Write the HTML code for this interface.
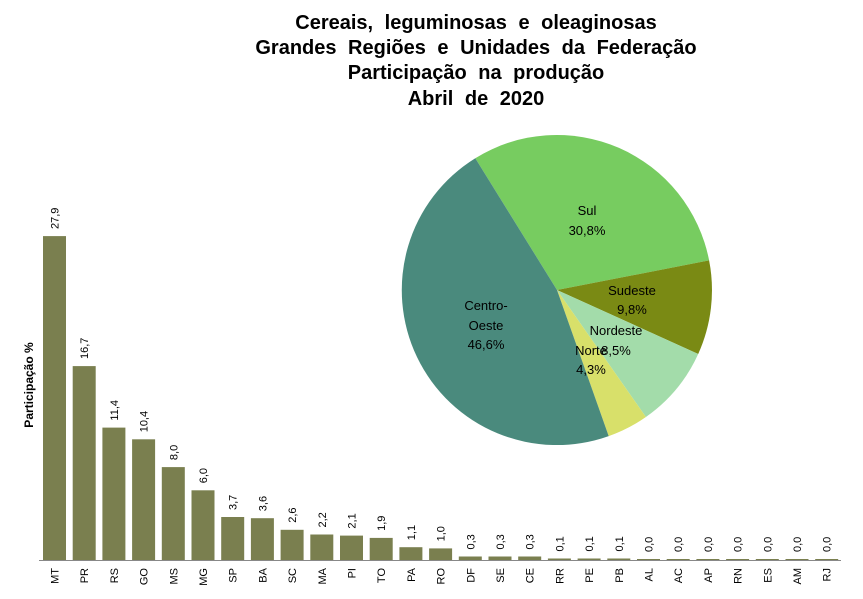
<!DOCTYPE html>
<html><head><meta charset="utf-8"><style>
html,body{margin:0;padding:0;background:#fff;}
svg{display:block;font-family:"Liberation Sans",sans-serif;}
</style></head><body>
<svg width="863" height="599" viewBox="0 0 863 599" xmlns="http://www.w3.org/2000/svg">
<g font-weight="bold" font-size="20" text-anchor="middle" fill="#000" word-spacing="6">
<text x="476" y="29">Cereais, leguminosas  e oleaginosas</text>
<text x="476" y="54">Grandes Regiões e Unidades  da Federação</text>
<text x="476" y="79">Participação  na produção</text>
<text x="476" y="105">Abril de 2020</text>
</g>
<text transform="translate(33,385) rotate(-90)" font-size="12" font-weight="bold" text-anchor="middle">Participação %</text>
<g fill="#7a7f4f">
<rect x="43" y="236.1" width="23" height="323.9"/>
<rect x="72.7" y="366.1" width="23" height="193.9"/>
<rect x="102.4" y="427.6" width="23" height="132.4"/>
<rect x="132.1" y="439.3" width="23" height="120.7"/>
<rect x="161.8" y="467.1" width="23" height="92.9"/>
<rect x="191.5" y="490.3" width="23" height="69.7"/>
<rect x="221.2" y="517" width="23" height="43"/>
<rect x="250.9" y="518.2" width="23" height="41.8"/>
<rect x="280.6" y="529.8" width="23" height="30.2"/>
<rect x="310.3" y="534.5" width="23" height="25.5"/>
<rect x="340" y="535.6" width="23" height="24.4"/>
<rect x="369.7" y="537.9" width="23" height="22.1"/>
<rect x="399.4" y="547.2" width="23" height="12.8"/>
<rect x="429.1" y="548.4" width="23" height="11.6"/>
<rect x="458.8" y="556.5" width="23" height="3.5"/>
<rect x="488.5" y="556.5" width="23" height="3.5"/>
<rect x="518.2" y="556.5" width="23" height="3.5"/>
<rect x="547.9" y="558.5" width="23" height="1.5"/>
<rect x="577.6" y="558.5" width="23" height="1.5"/>
<rect x="607.3" y="558.5" width="23" height="1.5"/>
<rect x="637" y="559" width="23" height="1"/>
<rect x="666.7" y="559" width="23" height="1"/>
<rect x="696.4" y="559" width="23" height="1"/>
<rect x="726.1" y="559" width="23" height="1"/>
<rect x="755.8" y="559" width="23" height="1"/>
<rect x="785.5" y="559" width="23" height="1"/>
<rect x="815.2" y="559" width="23" height="1"/>
</g>
<line x1="39" y1="560.5" x2="841" y2="560.5" stroke="#888" stroke-width="1"/>
<g font-size="11" fill="#000" text-anchor="start">
<text transform="translate(58.5,229) rotate(-90)">27,9</text>
<text transform="translate(88.2,359) rotate(-90)">16,7</text>
<text transform="translate(117.9,420.6) rotate(-90)">11,4</text>
<text transform="translate(147.6,432.3) rotate(-90)">10,4</text>
<text transform="translate(177.3,460.1) rotate(-90)">8,0</text>
<text transform="translate(207,483.3) rotate(-90)">6,0</text>
<text transform="translate(236.7,510) rotate(-90)">3,7</text>
<text transform="translate(266.4,511.2) rotate(-90)">3,6</text>
<text transform="translate(296.1,522.8) rotate(-90)">2,6</text>
<text transform="translate(325.8,527.5) rotate(-90)">2,2</text>
<text transform="translate(355.5,528.6) rotate(-90)">2,1</text>
<text transform="translate(385.2,530.9) rotate(-90)">1,9</text>
<text transform="translate(414.9,540.2) rotate(-90)">1,1</text>
<text transform="translate(444.6,541.4) rotate(-90)">1,0</text>
<text transform="translate(474.3,549.5) rotate(-90)">0,3</text>
<text transform="translate(504,549.5) rotate(-90)">0,3</text>
<text transform="translate(533.7,549.5) rotate(-90)">0,3</text>
<text transform="translate(563.4,551.5) rotate(-90)">0,1</text>
<text transform="translate(593.1,551.5) rotate(-90)">0,1</text>
<text transform="translate(622.8,551.5) rotate(-90)">0,1</text>
<text transform="translate(652.5,552) rotate(-90)">0,0</text>
<text transform="translate(682.2,552) rotate(-90)">0,0</text>
<text transform="translate(711.9,552) rotate(-90)">0,0</text>
<text transform="translate(741.6,552) rotate(-90)">0,0</text>
<text transform="translate(771.3,552) rotate(-90)">0,0</text>
<text transform="translate(801,552) rotate(-90)">0,0</text>
<text transform="translate(830.7,552) rotate(-90)">0,0</text>
</g>
<g font-size="11" fill="#000" text-anchor="end">
<text transform="translate(58.5,568) rotate(-90)">MT</text>
<text transform="translate(88.2,568) rotate(-90)">PR</text>
<text transform="translate(117.9,568) rotate(-90)">RS</text>
<text transform="translate(147.6,568) rotate(-90)">GO</text>
<text transform="translate(177.3,568) rotate(-90)">MS</text>
<text transform="translate(207,568) rotate(-90)">MG</text>
<text transform="translate(236.7,568) rotate(-90)">SP</text>
<text transform="translate(266.4,568) rotate(-90)">BA</text>
<text transform="translate(296.1,568) rotate(-90)">SC</text>
<text transform="translate(325.8,568) rotate(-90)">MA</text>
<text transform="translate(355.5,568) rotate(-90)">PI</text>
<text transform="translate(385.2,568) rotate(-90)">TO</text>
<text transform="translate(414.9,568) rotate(-90)">PA</text>
<text transform="translate(444.6,568) rotate(-90)">RO</text>
<text transform="translate(474.3,568) rotate(-90)">DF</text>
<text transform="translate(504,568) rotate(-90)">SE</text>
<text transform="translate(533.7,568) rotate(-90)">CE</text>
<text transform="translate(563.4,568) rotate(-90)">RR</text>
<text transform="translate(593.1,568) rotate(-90)">PE</text>
<text transform="translate(622.8,568) rotate(-90)">PB</text>
<text transform="translate(652.5,568) rotate(-90)">AL</text>
<text transform="translate(682.2,568) rotate(-90)">AC</text>
<text transform="translate(711.9,568) rotate(-90)">AP</text>
<text transform="translate(741.6,568) rotate(-90)">RN</text>
<text transform="translate(771.3,568) rotate(-90)">ES</text>
<text transform="translate(801,568) rotate(-90)">AM</text>
<text transform="translate(830.7,568) rotate(-90)">RJ</text>
</g>
<g>
<path d="M557,290 L475.3,158.2 A155,155 0 0,1 709.1,260.4 Z" fill="#77cc60"/>
<path d="M557,290 L709.1,260.4 A155,155 0 0,1 698.2,354 Z" fill="#7a8a14"/>
<path d="M557,290 L698.2,354 A155,155 0 0,1 645.9,417 Z" fill="#a3dcaa"/>
<path d="M557,290 L645.9,417 A155,155 0 0,1 608.7,436.1 Z" fill="#d8e06a"/>
<path d="M557,290 L608.7,436.1 A155,155 0 0,1 475.3,158.2 Z" fill="#4a8a7d"/>
</g>
<g font-size="13" fill="#000" text-anchor="middle">
<text x="587" y="215">Sul</text>
<text x="587" y="235">30,8%</text>
<text x="632" y="295">Sudeste</text>
<text x="632" y="314">9,8%</text>
<text x="616" y="335">Nordeste</text>
<text x="616" y="355">8,5%</text>
<text x="591" y="355">Norte</text>
<text x="591" y="374">4,3%</text>
<text x="486" y="310">Centro-</text>
<text x="486" y="330">Oeste</text>
<text x="486" y="349">46,6%</text>
</g>
</svg>
</body></html>
